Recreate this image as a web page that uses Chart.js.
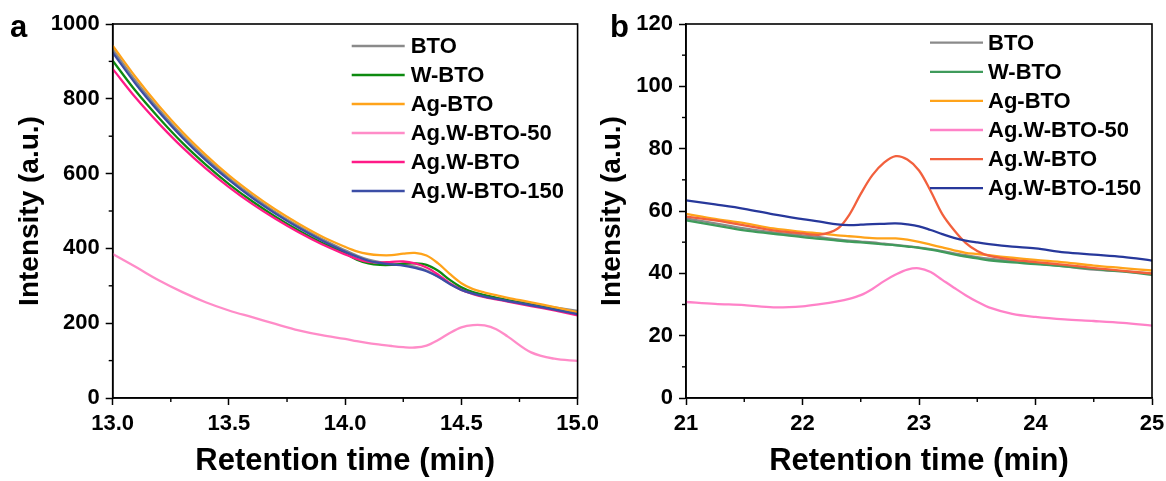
<!DOCTYPE html>
<html><head><meta charset="utf-8">
<script src="https://cdn.jsdelivr.net/npm/chart.js@4.4.1/dist/chart.umd.min.js"></script>
<style>
html,body{margin:0;padding:0;background:#fff;overflow:hidden;width:1166px;height:481px;position:relative;}
#ca{position:absolute;left:0;top:0;}
#cb{position:absolute;left:560px;top:0;}
</style></head><body>
<canvas id="ca" width="605" height="481"></canvas>
<canvas id="cb" width="620" height="481"></canvas>
<script>
const seriesNames = ["BTO", "W-BTO", "Ag-BTO", "Ag.W-BTO-50", "Ag.W-BTO", "Ag.W-BTO-150"];

// ---- Panel a ----
const timeA = [13.0,13.1,13.2,13.3,13.4,13.5,13.6,13.7,13.8,13.9,14.0,14.05,14.1,14.15,14.2,14.25,14.3,14.35,14.4,14.45,14.5,14.55,14.6,14.65,14.7,14.8,14.9,15.0];
const btoA    = [933,847,771,702,642,588,540,497,459,425,395,381,370,363,359,356,351,341,325,306,291,281,274,268,262,252,242,233];
const wbtoA   = [902,820,748,682,624,572,526,485,448,415,387,370,360,356,356,359,360,356,340,316,296,283,275,268,261,249,237,224];
const agbtoA  = [942,857,780,711,650,595,547,504,466,432,404,392,385,382,382,386,388,381,360,332,307,291,282,275,268,256,243,229];
const agw50A  = [385,350,314,283,256,234,216,198,181,168,158,152,147,143,139,136,135,140,155,174,189,195,194,184,164,122,105,99];
const agwA    = [880,802,733,670,614,564,519,479,443,411,384,372,364,362,364,365,360,349,330,307,289,278,270,264,258,246,234,221];
const agw150A = [924,839,764,696,636,583,535,493,455,421,391,378,367,361,357,354,348,339,324,305,289,279,271,265,259,248,236,224];
const xTicksA = [13.0,13.5,14.0,14.5,15.0];
const xMinorA = [13.25,13.75,14.25,14.75];
const yTicksA = [0,200,400,600,800,1000];
const yMinorA = [100,300,500,700,900];
const colorsA = ["#8a8a8a","#0d8a10","#ffa31a","#ff8cc8","#ff1a87","#3c4ea6"];

// ---- Panel b ----
const timeB = [21,21.25,21.5,21.75,22,22.15,22.3,22.4,22.5,22.6,22.7,22.8,22.9,23.0,23.1,23.2,23.3,23.4,23.5,23.6,23.8,24.0,24.25,24.5,24.75,25];
const btoB    = [57.6,56.0,54.4,53.1,52.2,51.6,50.9,50.5,50.2,49.9,49.5,49.1,48.7,48.3,47.8,47.1,46.4,45.8,45.2,44.7,43.9,43.2,42.2,41.2,40.6,40.0];
const wbtoB   = [57.0,55.4,53.8,52.7,51.6,51.1,50.5,50.2,49.9,49.6,49.3,49.0,48.6,48.2,47.6,46.9,46.1,45.4,44.8,44.2,43.5,43.0,42.2,41.4,40.6,39.5];
const agbtoB  = [59.1,57.5,56.1,54.4,53.3,52.8,52.2,51.9,51.6,51.3,51.2,51.2,50.8,50.1,49.2,48.3,47.4,46.6,46.2,45.8,45.0,44.3,43.5,42.5,41.7,40.9];
const agw50B  = [30.8,30.2,29.8,29.1,29.4,30.1,31.0,31.8,33.0,35.0,37.5,39.6,41.2,41.6,40.4,37.9,35.4,33.0,30.9,29.1,27.0,26.0,25.2,24.7,24.1,23.2];
const agwB    = [58.2,57.0,55.4,53.8,52.8,52.4,54.3,58.7,65.5,71.5,75.5,77.6,76.5,73.0,66.4,59.0,53.9,49.8,47.2,45.7,44.4,43.6,42.7,41.7,40.8,39.9];
const agw150B = [63.4,62.1,60.7,58.9,57.4,56.6,55.7,55.5,55.6,55.8,55.9,56.0,55.7,55.1,53.9,52.6,51.4,50.5,49.9,49.4,48.6,48.0,46.7,46.0,45.3,44.1];
const xTicksB = [21,22,23,24,25];
const xMinorB = [21.5,22.5,23.5,24.5];
const yTicksB = [0,20,40,60,80,100,120];
const yMinorB = [10,30,50,70,90,110];
const colorsB = ["#8a8a8a","#3f9b5b","#ffa31a","#ff82c8","#f2603d","#27389b"];

const FONT = "'Liberation Sans', Arial, Helvetica, sans-serif";

function makeDatasets(t, series, colors) {
  return series.map((vals, i) => ({
    label: seriesNames[i],
    data: t.map((x, k) => ({x: x, y: vals[k]})),
    borderColor: colors[i],
    backgroundColor: colors[i],
    borderWidth: 2.3,
    pointRadius: 0,
    fill: false,
    tension: 0.35
  })).reverse();
}

const framePlugin = {
  id: 'frame',
  afterDraw(chart, args, o) {
    const {ctx, chartArea: a, scales} = chart;
    ctx.save();
    ctx.strokeStyle = '#000';
    ctx.lineWidth = 1.6;
    ctx.strokeRect(a.left, a.top, a.right - a.left, a.bottom - a.top);
    ctx.lineWidth = 1.4;
    o.minorX.forEach(v => {
      const px = scales.x.getPixelForValue(v);
      ctx.beginPath(); ctx.moveTo(px, a.bottom); ctx.lineTo(px, a.bottom + 4); ctx.stroke();
    });
    o.minorY.forEach(v => {
      const py = scales.y.getPixelForValue(v);
      ctx.beginPath(); ctx.moveTo(a.left, py); ctx.lineTo(a.left - 4, py); ctx.stroke();
    });
    // legend
    const ds = chart.data.datasets.slice().reverse();
    ctx.font = "bold 22px " + FONT;
    ctx.textBaseline = 'middle';
    ctx.textAlign = 'left';
    ds.forEach((d, i) => {
      const y = o.legTop + i * o.legGap;
      ctx.strokeStyle = d.borderColor;
      ctx.lineWidth = 2.3;
      ctx.beginPath();
      ctx.moveTo(a.left + o.legX0, y); ctx.lineTo(a.left + o.legX1, y); ctx.stroke();
      ctx.fillStyle = '#000';
      ctx.fillText(d.label, a.left + o.legText, y + 1);
    });
    // panel letter
    ctx.font = "bold 31px " + FONT;
    ctx.textBaseline = 'alphabetic';
    ctx.fillStyle = '#000';
    ctx.fillText(o.letter, o.letterX, o.letterY);
    ctx.restore();
  }
};

function makeChart(id, t, series, colors, xr, yr, xt, yt, mx, my, fmt, axisW, padRight, yTitlePad, frameOpts) {
  return new Chart(document.getElementById(id), {
    type: 'line',
    data: { datasets: makeDatasets(t, series, colors) },
    options: {
      responsive: false,
      animation: false,
      layout: { padding: { top: 24, right: padRight, left: 0, bottom: 0 } },
      plugins: { legend: { display: false }, tooltip: { enabled: false }, frame: Object.assign({minorX: mx, minorY: my}, frameOpts) },
      scales: {
        x: {
          type: 'linear', min: xr[0], max: xr[1],
          afterBuildTicks: s => { s.ticks = xt.map(v => ({value: v})); },
          afterFit: s => { s.height = 83; },
          ticks: { color: '#000', font: { family: FONT, size: 22, weight: 'bold' }, padding: 6, maxRotation: 0, autoSkip: false, callback: fmt },
          grid: { drawOnChartArea: false, drawTicks: true, tickLength: 7, tickColor: '#000', tickWidth: 1.5 },
          border: { display: true, color: '#000', width: 1.6 },
          title: { display: true, text: 'Retention time (min)', color: '#000', font: { family: FONT, size: 31, weight: 'bold' }, padding: { top: 0, bottom: 1 } }
        },
        y: {
          type: 'linear', min: yr[0], max: yr[1],
          afterBuildTicks: s => { s.ticks = yt.map(v => ({value: v})); },
          afterFit: s => { s.width = axisW; },
          ticks: { color: '#000', font: { family: FONT, size: 22, weight: 'bold' }, padding: 6, autoSkip: false, callback: v => String(v) },
          grid: { drawOnChartArea: false, drawTicks: true, tickLength: 7, tickColor: '#000', tickWidth: 1.5 },
          border: { display: true, color: '#000', width: 1.6 },
          title: { display: true, text: 'Intensity (a.u.)', color: '#000', font: { family: FONT, size: 28, weight: 'bold' }, padding: { top: yTitlePad, bottom: 0 } }
        }
      }
    },
    plugins: [framePlugin]
  });
}

makeChart('ca', timeA, [btoA, wbtoA, agbtoA, agw50A, agwA, agw150A], colorsA,
  [13, 15], [0, 1000], xTicksA, yTicksA, xMinorA, yMinorA, v => Number(v).toFixed(1),
  112.7, 27, 13.5,
  { legTop: 46, legGap: 29, legX0: 239, legX1: 292, legText: 298, letter: 'a', letterX: 10, letterY: 37 });

makeChart('cb', timeB, [btoB, wbtoB, agbtoB, agw50B, agwB, agw150B], colorsB,
  [21, 25], [0, 120], xTicksB, yTicksB, xMinorB, yMinorB, v => String(v),
  126, 28, 35,
  { legTop: 42.7, legGap: 29.1, legX0: 244, legX1: 297, legText: 302, letter: 'b', letterX: 50, letterY: 37 });
</script>
</body></html>
